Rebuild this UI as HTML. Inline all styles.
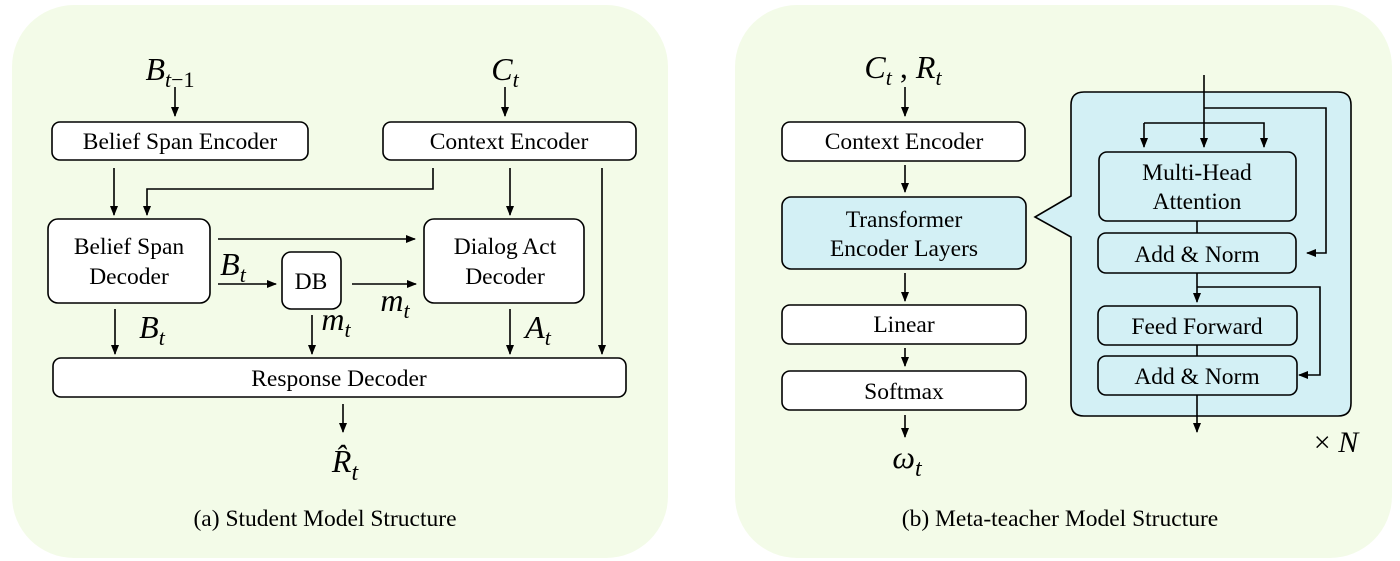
<!DOCTYPE html>
<html><head><meta charset="utf-8"><style>
html,body{margin:0;padding:0;background:#fff;width:1400px;height:561px;overflow:hidden}
text{font-family:"Liberation Serif",serif;fill:#000}
.b{fill:#fff;stroke:#000;stroke-width:1.6}
.bl{fill:#d3f0f5;stroke:#000;stroke-width:1.6}
.l{stroke:#000;stroke-width:1.6;fill:none}
.t{font-size:23.5px;text-anchor:middle}
.m{font-style:italic;font-size:32px;text-anchor:middle}
</style></head><body>
<svg width="1400" height="561" viewBox="0 0 1400 561" xmlns="http://www.w3.org/2000/svg">
<defs><marker id="a" markerWidth="10" markerHeight="10" refX="9" refY="5" orient="auto" markerUnits="userSpaceOnUse"><path d="M0,1 L10,5 L0,9 z" fill="#000"/></marker></defs>
<rect x="12" y="5" width="656" height="553" rx="62" fill="#f3fbe8"/>
<rect x="735" y="5" width="657" height="553" rx="62" fill="#f3fbe8"/>
<!-- left -->
<text x="170" y="80" class="m">B<tspan font-size="22" dy="7">t</tspan><tspan font-style="normal" font-size="22">−1</tspan></text>
<text x="505" y="80" class="m">C<tspan font-size="22" dy="7">t</tspan></text>
<line x1="175" y1="87" x2="175" y2="116" class="l" marker-end="url(#a)"/>
<line x1="505" y1="87" x2="505" y2="116" class="l" marker-end="url(#a)"/>
<rect x="52" y="122" width="256" height="38" rx="8" class="b"/><text x="180" y="149" class="t">Belief Span Encoder</text>
<rect x="383" y="122" width="253" height="38" rx="8" class="b"/><text x="509" y="149" class="t">Context Encoder</text>
<line x1="114" y1="168" x2="114" y2="215" class="l" marker-end="url(#a)"/>
<polyline points="433,168 433,189 147,189 147,215" class="l" marker-end="url(#a)"/>
<line x1="510" y1="168" x2="510" y2="215" class="l" marker-end="url(#a)"/>
<line x1="602" y1="168" x2="602" y2="354" class="l" marker-end="url(#a)"/>
<rect x="48" y="219" width="162" height="84" rx="10" class="b"/><text x="129" y="254" class="t">Belief Span</text><text x="129" y="284" class="t">Decoder</text>
<rect x="282" y="252" width="59" height="57" rx="9" class="b"/><text x="311" y="289" class="t">DB</text>
<rect x="424" y="219" width="160" height="84" rx="10" class="b"/><text x="505" y="254" class="t">Dialog Act</text><text x="505" y="284" class="t">Decoder</text>
<line x1="218" y1="239" x2="415" y2="239" class="l" marker-end="url(#a)"/>
<line x1="218" y1="284" x2="276" y2="284" class="l" marker-end="url(#a)"/>
<line x1="352" y1="284" x2="416" y2="284" class="l" marker-end="url(#a)"/>
<text x="233" y="275" class="m">B<tspan font-size="22" dy="7">t</tspan></text>
<text x="395" y="311" class="m">m<tspan font-size="22" dy="7">t</tspan></text>
<rect x="53" y="358" width="573" height="39" rx="8" class="b"/><text x="339" y="386" class="t">Response Decoder</text>
<line x1="115" y1="309" x2="115" y2="354" class="l" marker-end="url(#a)"/>
<line x1="312" y1="315" x2="312" y2="354" class="l" marker-end="url(#a)"/>
<line x1="510" y1="309" x2="510" y2="354" class="l" marker-end="url(#a)"/>
<text x="152" y="338" class="m">B<tspan font-size="22" dy="7">t</tspan></text>
<text x="336" y="330" class="m">m<tspan font-size="22" dy="7">t</tspan></text>
<text x="538" y="338" class="m">A<tspan font-size="22" dy="7">t</tspan></text>
<line x1="343" y1="404" x2="343" y2="432" class="l" marker-end="url(#a)"/>
<text x="345" y="472" class="m" font-size="36">R̂<tspan font-size="24" dy="8">t</tspan></text>
<text x="325" y="526" class="t">(a) Student Model Structure</text>
<!-- right -->
<text x="903" y="78" class="m">C<tspan font-size="22" dy="7">t</tspan><tspan dy="-7" font-style="normal"> , </tspan>R<tspan font-size="22" dy="7">t</tspan></text>
<line x1="905" y1="87" x2="905" y2="116" class="l" marker-end="url(#a)"/>
<rect x="782" y="122" width="243" height="39" rx="8" class="b"/><text x="904" y="149" class="t">Context Encoder</text>
<line x1="905" y1="165" x2="905" y2="192" class="l" marker-end="url(#a)"/>
<rect x="782" y="197" width="244" height="72" rx="9" class="bl"/><text x="904" y="227" class="t">Transformer</text><text x="904" y="256" class="t">Encoder Layers</text>
<line x1="905" y1="273" x2="905" y2="301" class="l" marker-end="url(#a)"/>
<rect x="782" y="305" width="244" height="39" rx="8" class="b"/><text x="904" y="332" class="t">Linear</text>
<line x1="905" y1="348" x2="905" y2="366" class="l" marker-end="url(#a)"/>
<rect x="782" y="371" width="244" height="39" rx="8" class="b"/><text x="904" y="399" class="t">Softmax</text>
<line x1="905" y1="415" x2="905" y2="437" class="l" marker-end="url(#a)"/>
<text x="907" y="468" class="m" font-size="36">ω<tspan font-size="24" dy="8">t</tspan></text>
<path d="M1084,92 H1338 Q1351,92 1351,105 V403 Q1351,416 1338,416 H1084 Q1071,416 1071,403 V237 L1035,217 L1071,196 V105 Q1071,92 1084,92 Z" class="bl"/>
<line x1="1204" y1="75" x2="1204" y2="147" class="l" marker-end="url(#a)"/>
<polyline points="1204,108 1326,108 1326,253 1307,253" class="l" marker-end="url(#a)"/>
<polyline points="1144,123 1264,123 1264,147" class="l" marker-end="url(#a)"/>
<line x1="1144" y1="123" x2="1144" y2="147" class="l" marker-end="url(#a)"/>
<rect x="1099" y="152" width="197" height="69" rx="8" class="bl"/><text x="1197" y="180" class="t">Multi-Head</text><text x="1197" y="209" class="t">Attention</text>
<line x1="1197" y1="221" x2="1197" y2="233" class="l"/>
<rect x="1098" y="233" width="198" height="40" rx="8" class="bl"/><text x="1197" y="262" class="t">Add &amp; Norm</text>
<line x1="1197" y1="273" x2="1197" y2="302" class="l" marker-end="url(#a)"/>
<polyline points="1197,287 1320,287 1320,375 1299,375" class="l" marker-end="url(#a)"/>
<rect x="1098" y="306" width="199" height="39" rx="8" class="bl"/><text x="1197" y="334" class="t">Feed Forward</text>
<line x1="1197" y1="345" x2="1197" y2="356" class="l"/>
<rect x="1098" y="356" width="199" height="39" rx="8" class="bl"/><text x="1197" y="384" class="t">Add &amp; Norm</text>
<line x1="1197" y1="395" x2="1197" y2="432" class="l" marker-end="url(#a)"/>
<text x="1336" y="452" font-size="30" text-anchor="middle">× <tspan font-style="italic">N</tspan></text>
<text x="1060" y="526" class="t">(b) Meta-teacher Model Structure</text>
</svg>
</body></html>
